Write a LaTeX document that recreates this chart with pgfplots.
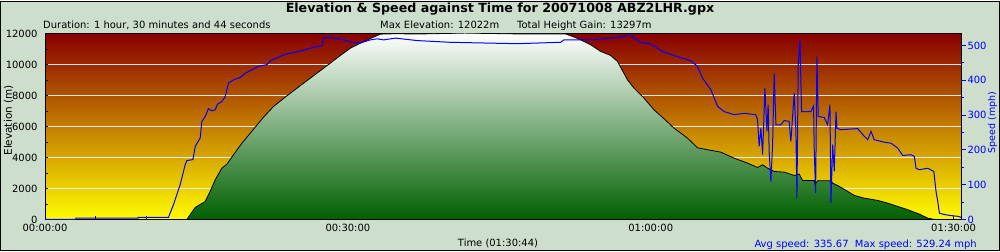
\documentclass[border=0pt]{standalone}
\usepackage{fontspec}
\setmainfont{DejaVu Sans}
\usepackage{pgfplots}
\pgfplotsset{compat=1.18}
\definecolor{bgc}{RGB}{205,223,204}
\definecolor{plottop}{RGB}{136,0,0}
\definecolor{plotbot}{RGB}{255,252,0}
\definecolor{gbot}{RGB}{0,96,0}
\definecolor{gridc}{RGB}{232,232,232}
\begin{document}
\begin{tikzpicture}[x=1bp,y=1bp]
\draw[fill=bgc,line width=1bp] (0.5,0.5) rectangle (999.5,249.5);
\begin{axis}[
  at={(45bp,32bp)}, anchor=south west,
  scale only axis, width=916bp, height=186bp,
  xmin=0, xmax=90.733, ymin=0, ymax=12000,
  scaled y ticks=false, scaled x ticks=false,
  axis background/.style={top color=plottop, bottom color=plotbot},
  tick pos=left, tick align=inside,
  major tick length=3bp, minor tick length=3bp,
  tick style={black, line width=0.8bp},
  axis line style={black, line width=1bp},
  xtick={0,30,60,90},
  xticklabels={00:00:00,00:30:00,01:00:00,01:30:00},
  minor xtick={5,10,15,20,25,35,40,45,50,55,65,70,75,80,85},
  ytick={0,2000,4000,6000,8000,10000,12000},
  yticklabels={0,2000,4000,6000,8000,10000,12000},
  minor ytick={1000,3000,5000,7000,9000,11000},
  ymajorgrids, grid style={gridc, line width=0.9bp},
  ticklabel style={font=\fontsize{10}{12}\selectfont},
  xticklabel style={yshift=-1.5bp},
  yticklabel style={xshift=-4bp},
]
\addplot[draw=black, line width=0.8bp, top color=white, bottom color=gbot] coordinates {
(0,0) (14.05,0) (14.88,774) (15.87,1161) (16.36,1806) (16.86,2561) (17.52,3309) (18.02,3567) (18.67,4173) (19.51,4921) (20.83,5953) (21.65,6598) (22.64,7289) (23.97,7979) (25.62,8791) (26.94,9436) (28.26,10081) (29.26,10578) (30.25,11049) (31.24,11371) (32.23,11675) (33.22,11952) (34.51,11978) (37.19,11965) (41.55,12022) (47.11,11965) (51.57,11965) (52.26,11804) (53.06,11591) (54.05,11268) (55.04,10836) (56.03,10578) (56.70,10191) (57.69,9011) (58.34,8469) (59.33,7824) (60.32,7076) (61.32,6495) (62.31,5889) (63.64,5244) (64.63,4625) (65.62,4496) (66.94,4341) (68.26,3954) (69.59,3631) (70.58,3354) (71.08,3528) (71.57,3309) (72.23,3096) (73.22,3051) (74.21,2838) (74.71,2922) (75.04,2516) (76.19,2516) (76.26,2258) (76.53,2496) (77.85,2496) (78.02,2341) (78.67,2129) (79.51,1806) (80.16,1548) (81.15,1374) (82.48,1226) (83.47,1051) (84.46,839) (85.46,626) (86.61,342) (87.44,84) (87.93,19) (88.26,0) (90.73,0)
} \closedcycle;
\end{axis}
\begin{axis}[
  at={(45bp,32bp)}, anchor=south west,
  scale only axis, width=916bp, height=186bp,
  xmin=0, xmax=90.733, ymin=0, ymax=534.5,
  axis y line*=right, axis x line=none,
  y axis line style={draw=none},
  tick align=outside,
  major tick length=5bp, minor tick length=3bp,
  tick style={blue, line width=0.8bp},
  ytick={0,100,200,300,400,500},
  yticklabels={0,100,200,300,400,500},
  minor ytick={50,150,250,350,450},
  ticklabel style={font=\fontsize{10}{12}\selectfont, text=blue},
  yticklabel style={xshift=-2bp},
]
\addplot[blue, line width=1bp] coordinates {
(0,0) (3.07,0) (3.07,4) (9.22,4) (9.22,6) (12.23,6) (12.72,42) (13.39,100) (13.88,157) (14.05,169) (14.65,172) (14.88,210) (15.37,234) (15.54,282) (15.87,296) (16.19,318) (16.53,312) (16.86,315) (17.09,331) (17.52,339) (17.85,353) (18.18,392) (18.67,401) (19.34,408) (19.83,420) (20.50,430) (21.15,440) (21.99,445) (22.31,456) (23.14,466) (23.80,475) (24.96,481) (26.28,492) (27.44,500) (27.60,521) (28.26,523) (29.58,516) (30.25,510) (31.24,507) (32.23,516) (32.89,519) (33.55,516) (34.71,521) (36.86,514) (38.18,512) (40.16,509) (43.47,507) (46.78,505) (51.07,509) (51.40,516) (52.06,516) (54.37,516) (56.03,521) (57.02,524) (57.69,529) (58.18,526) (59.01,509) (60.00,504) (61.16,483) (62.31,471) (63.96,456) (64.63,440) (65.13,406) (65.95,373) (66.62,325) (67.27,310) (68.26,301) (69.25,305) (70.41,301) (70.58,287) (70.74,210) (70.91,262) (71.08,186) (71.31,377) (71.51,253) (71.63,330) (71.73,195) (71.90,109) (72.07,215) (72.23,420) (72.40,272) (72.89,272) (73.22,284) (73.71,282) (73.88,224) (74.21,363) (74.38,253) (74.48,61) (74.61,445) (74.78,516) (74.94,310) (75.86,310) (76.13,326) (76.19,205) (76.33,76) (76.46,468) (76.59,296) (77.18,293) (77.52,272) (77.75,330) (77.85,47) (78.02,215) (78.18,138) (78.35,310) (78.45,262) (78.84,258) (80.50,261) (81.15,239) (81.49,229) (81.82,253) (82.14,229) (83.14,222) (83.80,219) (84.46,205) (84.96,184) (85.78,186) (86.11,181) (86.28,147) (86.61,143) (87.44,147) (88.04,138) (88.26,80) (88.43,52) (88.59,18) (89.09,14) (89.75,11) (90.42,9) (90.73,6)
};
\end{axis}
\node[font=\bfseries\fontsize{12.7}{14}\selectfont, anchor=base] at (500,238.5) {Elevation \& Speed against Time for 20071008 ABZ2LHR.gpx};
\node[font=\fontsize{10}{12}\selectfont, anchor=base west, inner sep=0] at (43,222.7) {Duration: 1 hour, 30 minutes and 44 seconds};
\node[font=\fontsize{10}{12}\selectfont, anchor=base west, inner sep=0] at (380,222.7) {Max Elevation: 12022m};
\node[font=\fontsize{10}{12}\selectfont, anchor=base west, inner sep=0] at (517,222.7) {Total Height Gain: 13297m};
\node[font=\fontsize{10}{12}\selectfont, anchor=base, inner sep=0] at (498,5) {Time (01:30:44)};
\node[font=\fontsize{10}{12}\selectfont, anchor=base east, inner sep=0, text=blue] at (977,3.5) {Avg speed: 335.67\ \ Max speed: 529.24 mph};
\node[font=\fontsize{10.5}{12}\selectfont, rotate=90, inner sep=0] at (8.5,131) {Elevation (m)};
\node[font=\fontsize{9.5}{12}\selectfont, rotate=90, inner sep=0, text=blue] at (992.5,129) {Speed (mph)};
\end{tikzpicture}
\end{document}
